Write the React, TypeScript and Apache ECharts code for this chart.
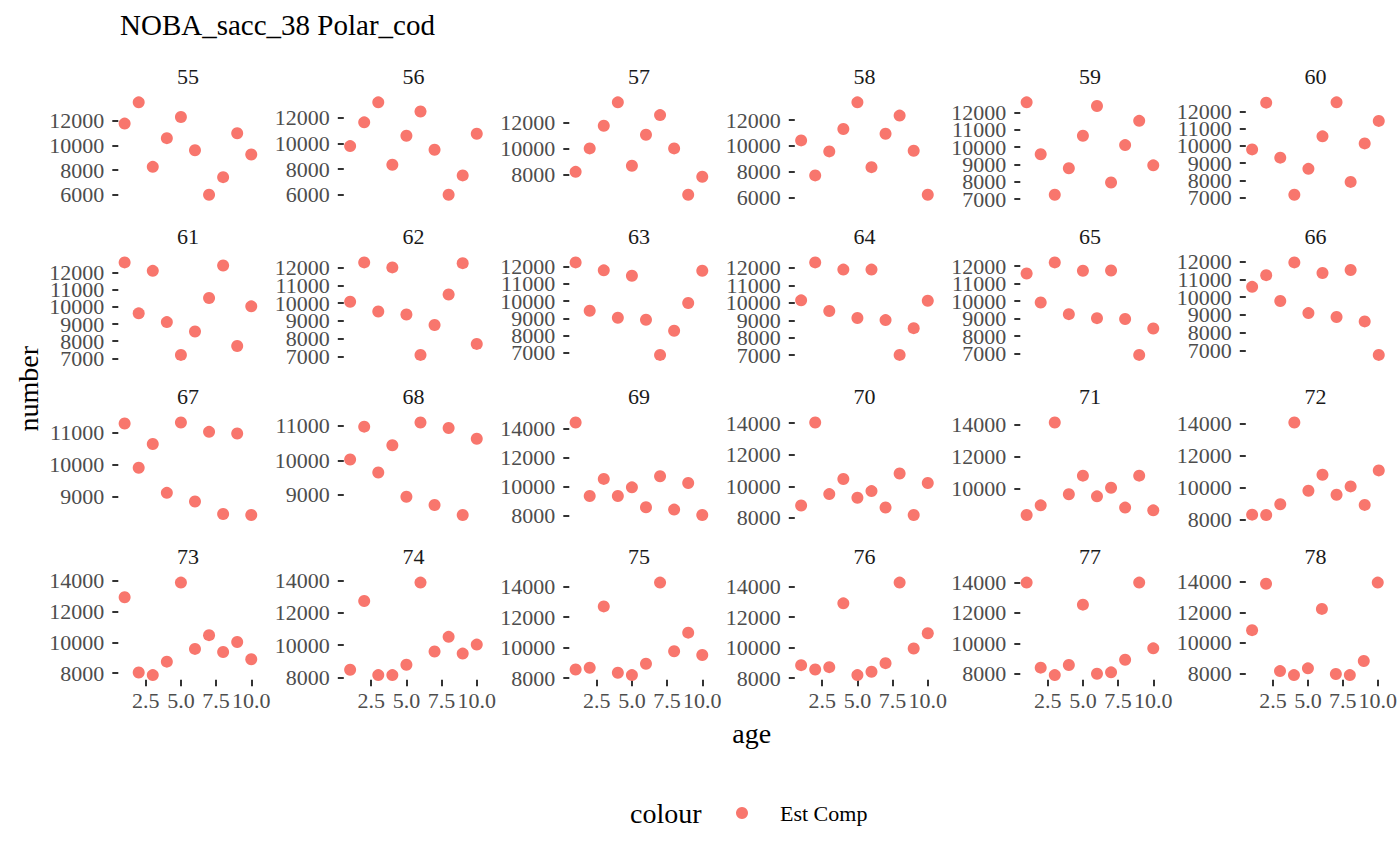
import React, { useEffect, useRef } from "react";
import * as echarts from "echarts";

const titleText = "NOBA_sacc_38 Polar_cod";
const years = ["55","56","57","58","59","60","61","62","63","64","65","66","67","68","69","70","71","72","73","74","75","76","77","78"];
const ages = [1, 2, 3, 4, 5, 6, 7, 8, 9, 10];
const seriesName = "Est Comp";

const y55 = [11780, 13510, 8270, 10600, 12320, 9620, 6000, 7430, 11000, 9270];
const y56 = [9790, 11640, 13200, 8340, 10600, 12490, 9510, 6000, 7510, 10750];
const y57 = [8200, 10000, 11740, 13540, 8670, 11050, 12560, 10000, 6440, 7820];
const y58 = [10420, 7710, 9570, 11300, 13370, 8350, 10940, 12340, 9620, 6210];
const y59 = [12590, 9590, 7250, 8780, 10660, 12380, 7960, 10120, 11520, 8950];
const y60 = [9800, 12520, 9320, 7160, 8670, 10560, 12540, 7910, 10150, 11460];
const y61 = [12590, 9620, 12100, 9110, 7200, 8560, 10520, 12410, 7720, 10030];
const y62 = [10080, 12300, 9530, 12020, 9360, 7080, 8770, 10490, 12260, 7700];
const y63 = [12250, 9440, 11790, 9040, 11480, 8920, 6880, 8280, 9890, 11770];
const y64 = [10140, 12310, 9530, 11900, 9130, 11900, 9010, 7020, 8550, 10120];
const y65 = [11580, 9920, 12210, 9250, 11730, 9020, 11750, 8970, 6920, 8430];
const y66 = [10580, 11240, 9780, 11960, 9100, 11360, 8880, 11530, 8630, 6740];
const y67 = [11280, 9900, 10640, 9120, 11310, 8850, 11020, 8460, 10970, 8430];
const y68 = [10030, 10980, 9650, 10440, 8950, 11100, 8710, 10940, 8420, 10630];
const y69 = [14410, 9360, 10530, 9360, 9950, 8580, 10710, 8420, 10250, 8050];
const y70 = [8790, 14040, 9510, 10470, 9280, 9700, 8660, 10810, 8190, 10210];
const y71 = [8360, 8960, 14120, 9650, 10810, 9520, 10060, 8820, 10810, 8650];
const y72 = [8290, 8270, 8940, 14060, 9790, 10790, 9540, 10060, 8900, 11060];
const y73 = [12920, 8040, 7870, 8740, 13870, 9570, 10460, 9370, 10020, 8900];
const y74 = [8480, 12740, 8150, 8150, 8790, 13880, 9610, 10520, 9480, 10040];
const y75 = [8570, 8680, 12700, 8350, 8200, 8940, 14260, 9760, 10980, 9520];
const y76 = [8850, 8570, 8720, 12900, 8200, 8420, 8980, 14260, 9940, 10940];
const y77 = [14000, 8400, 7910, 8570, 12550, 8000, 8090, 8920, 14000, 9670];
const y78 = [10830, 13870, 8150, 7890, 8330, 12220, 7960, 7890, 8810, 13940];

const panelValues = [y55, y56, y57, y58, y59, y60, y61, y62, y63, y64, y65, y66, y67, y68, y69, y70, y71, y72, y73, y74, y75, y76, y77, y78];
// y tick step per panel
const yStep = [2000, 2000, 2000, 2000, 1000, 1000, 1000, 1000, 1000, 1000, 1000, 1000, 1000, 1000, 2000, 2000, 2000, 2000, 2000, 2000, 2000, 2000, 2000, 2000];
const xTicks = [2.5, 5, 7.5, 10];

const FONT = "'Liberation Serif', 'Times New Roman', serif";

export default function App() {
  const ref = useRef<HTMLDivElement>(null);
  useEffect(() => {
    document.body.style.margin = "0";
    if (!ref.current) return;
    const chart = echarts.init(ref.current, null, { renderer: "svg" });

    const NCOL = 6;
    const NROW = 4;
    const left0 = 118.3, dx = 225.5, w = 139.3;
    const top0 = 97.7, dy = 160.1, h = 101.7;

    const xMin = ages[0] - 0.05 * (ages[ages.length - 1] - ages[0]);
    const xMax = ages[ages.length - 1] + 0.05 * (ages[ages.length - 1] - ages[0]);

    const grids: any[] = [];
    const xAxes: any[] = [];
    const yAxes: any[] = [];
    const series: any[] = [];
    const graphics: any[] = [];

    const makeY = (i: number, ymin: number, ymax: number, ticks: number[]) => ({
      gridIndex: i,
      type: "value",
      position: "left",
      offset: 0,
      min: ymin,
      max: ymax,
      axisLine: { show: false },
      splitLine: { show: false },
      axisTick: {
        show: ticks.length > 0,
        interval: 0,
        customValues: ticks,
        length: 6,
        lineStyle: { color: "#333333", width: 2 },
      },
      axisLabel: {
        show: ticks.length > 0,
        interval: 0,
        customValues: ticks,
        formatter: (v: number) => String(Math.round(v)),
        showMinLabel: true,
        showMaxLabel: true,
        hideOverlap: false,
        fontSize: 22,
        fontFamily: FONT,
        color: "#4D4D4D",
        margin: 14,
      },
    });

    panelValues.forEach((vals, i) => {
      const c = i % NCOL;
      const r = Math.floor(i / NCOL);
      const left = left0 + c * dx;
      const top = top0 + r * dy;
      grids.push({ left, top, width: w, height: h, containLabel: false });
      const isBottom = r === NROW - 1;
      xAxes.push({
        gridIndex: i,
        type: "value",
        min: xMin,
        max: xMax,
        show: isBottom,
        axisLine: { show: false },
        splitLine: { show: false },
        axisTick: {
          show: true,
          interval: 0,
          customValues: xTicks,
          length: 6.5,
          lineStyle: { color: "#333333", width: 2 },
        },
        axisLabel: {
          interval: 0,
          customValues: xTicks,
          formatter: (v: number) => v.toFixed(1),
          showMinLabel: true,
          showMaxLabel: true,
          hideOverlap: false,
          fontSize: 22,
          fontFamily: FONT,
          color: "#4D4D4D",
          margin: 10,
        },
      });
      const dmin = Math.min(...vals);
      const dmax = Math.max(...vals);
      const ymin = dmin - 0.05 * (dmax - dmin);
      const ymax = dmax + 0.05 * (dmax - dmin);
      const step = yStep[i];
      const ticks: number[] = [];
      for (let t = Math.ceil(ymin / step) * step; t <= ymax; t += step) ticks.push(t);
      // split ticks over two overlaid axes so that ECharts does not drop close labels
      const ticksA = ticks.filter((_, k) => k % 2 === 0);
      const ticksB = ticks.filter((_, k) => k % 2 === 1);
      yAxes.push(makeY(i, ymin, ymax, ticksA));
      yAxes.push(makeY(i, ymin, ymax, ticksB));
      series.push({
        name: seriesName,
        type: "scatter",
        xAxisIndex: i,
        yAxisIndex: 2 * i,
        symbol: "circle",
        symbolSize: 12,
        itemStyle: { color: "#F8766D", opacity: 1 },
        data: ages.map((a, k) => [a, vals[k]]),
      });
      graphics.push({
        type: "text",
        x: left + w / 2,
        y: top - 21.5,
        style: {
          text: years[i],
          fontSize: 22,
          fontFamily: FONT,
          fill: "#1A1A1A",
          textAlign: "center",
          verticalAlign: "middle",
        },
      });
    });

    const plotLeft = left0;
    const plotRight = left0 + (NCOL - 1) * dx + w;
    const plotTop = top0;
    const plotBottom = top0 + (NROW - 1) * dy + h;

    graphics.push({
      type: "text",
      x: 120,
      y: 25,
      style: {
        text: titleText,
        fontSize: 29,
        fontFamily: FONT,
        fill: "#000000",
        textAlign: "left",
        verticalAlign: "middle",
      },
    });
    graphics.push({
      type: "text",
      x: 28,
      y: (plotTop + plotBottom) / 2,
      rotation: Math.PI / 2,
      style: {
        text: "number",
        fontSize: 28,
        fontFamily: FONT,
        fill: "#000000",
        textAlign: "center",
        verticalAlign: "middle",
      },
    });
    graphics.push({
      type: "text",
      x: (plotLeft + plotRight) / 2,
      y: 733,
      style: {
        text: "age",
        fontSize: 28,
        fontFamily: FONT,
        fill: "#000000",
        textAlign: "center",
        verticalAlign: "middle",
      },
    });
    // legend
    graphics.push({
      type: "text",
      x: 630,
      y: 813,
      style: {
        text: "colour",
        fontSize: 28,
        fontFamily: FONT,
        fill: "#000000",
        textAlign: "left",
        verticalAlign: "middle",
      },
    });
    graphics.push({
      type: "circle",
      shape: { cx: 742, cy: 813, r: 6 },
      style: { fill: "#F8766D" },
    });
    graphics.push({
      type: "text",
      x: 780,
      y: 813,
      style: {
        text: seriesName,
        fontSize: 22,
        fontFamily: FONT,
        fill: "#000000",
        textAlign: "left",
        verticalAlign: "middle",
      },
    });

    chart.setOption({
      animation: false,
      backgroundColor: "#FFFFFF",
      grid: grids,
      xAxis: xAxes,
      yAxis: yAxes,
      series,
      graphic: graphics,
    });
    return () => chart.dispose();
  }, []);
  return <div ref={ref} style={{ width: 1400, height: 865 }} />;
}
